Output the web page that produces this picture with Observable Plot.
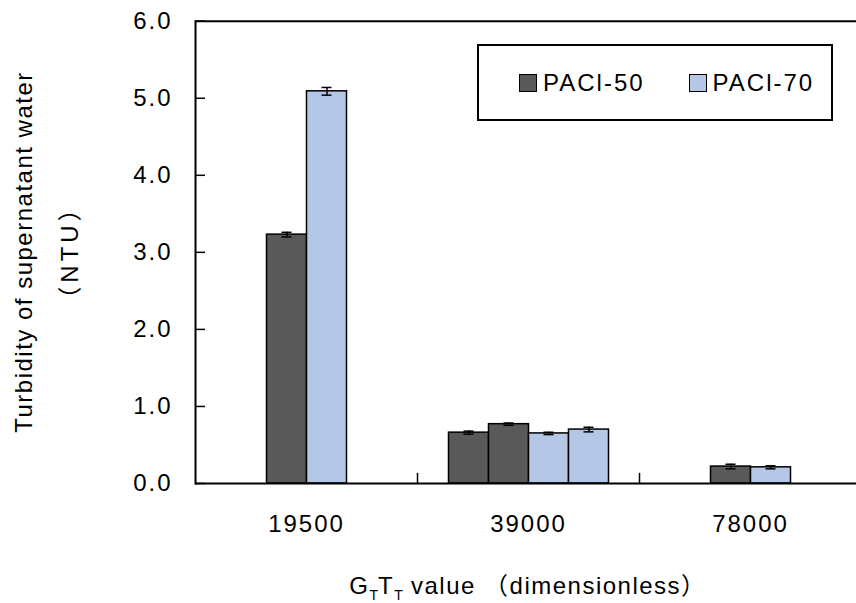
<!DOCTYPE html>
<html>
<head>
<meta charset="utf-8">
<script src="https://cdn.jsdelivr.net/npm/d3@7"></script>
<script src="https://cdn.jsdelivr.net/npm/@observablehq/plot@0.6"></script>
<style>
  body { margin: 0; background: #fff; }
  #chart {
    position: relative; width: 856px; height: 603px; overflow: hidden;
    font-family: "Liberation Sans", "Noto Sans CJK JP", sans-serif; color: #000;
  }
  #chart svg { position: absolute; left: 0; top: 0; }
  .ytitle {
    position: absolute; left: 47px; top: 252px; width: 520px;
    transform: translate(-50%, -50%) rotate(-90deg);
    text-align: center; font-size: 24px; line-height: 46px; white-space: nowrap;
    letter-spacing: 1.5px;
  }
  .ytitle .unit { letter-spacing: 4px; }
  .xtitle {
    position: absolute; left: 528px; top: 566px; transform: translateX(-50%);
    font-size: 24px; white-space: nowrap; letter-spacing: 1.5px;
  }
  .xtitle sub { font-size: 14px; vertical-align: -6px; letter-spacing: 0; }
  .legend {
    position: absolute; left: 477px; top: 44px; width: 356px; height: 77px;
    box-sizing: border-box; border: 2px solid #000; background: #fff;
    display: flex; align-items: center; padding-left: 40px; gap: 44px;
    font-size: 24px; letter-spacing: 2px;
  }
  .legend .item { display: flex; align-items: center; gap: 6px; }
  .legend .sw { width: 18px; height: 18px; box-sizing: border-box; border: 1.5px solid #000; }
</style>
</head>
<body>
<div id="chart"></div>
<script>
// G_T·T_T categories on the x axis
const groups = ["19500", "39000", "78000"];
// four bar positions inside each category (two runs per coagulant)
const slots = ["PACl-50 run 1", "PACl-50 run 2", "PACl-70 run 1", "PACl-70 run 2"];
const slotCoagulant = ["PACl-50", "PACl-50", "PACl-70", "PACl-70"];
const coagulants = ["PACl-50", "PACl-70"];
const coagulantColors = ["#595959", "#b4c7e7"];

// supernatant turbidity (NTU) per slot; null = not measured
const turbidity19500 = [null, 3.23, 5.09, null];
const turbidity39000 = [0.66, 0.77, 0.65, 0.70];
const turbidity78000 = [null, 0.22, 0.21, null];
// error bar half-lengths (NTU)
const error19500 = [null, 0.03, 0.05, null];
const error39000 = [0.02, 0.015, 0.015, 0.03];
const error78000 = [null, 0.03, 0.02, null];

const yTicks = [0, 1, 2, 3, 4, 5, 6];

const turbidityByGroup = [turbidity19500, turbidity39000, turbidity78000];
const errorByGroup = [error19500, error39000, error78000];

const rows = groups.flatMap((g, gi) =>
  slots.map((s, si) => ({
    group: g,
    slot: s,
    coagulant: slotCoagulant[si],
    value: turbidityByGroup[gi][si],
    err: errorByGroup[gi][si]
  }))
).filter(d => d.value != null);

// a plain stroke for vector marks (category separators)
const stem = {draw(context, l) { context.moveTo(0, 0); context.lineTo(0, -l); }};

const chart = Plot.plot({
  width: 856,
  height: 603,
  marginLeft: 193.5,
  marginRight: -5.5,
  marginTop: 20.7,
  marginBottom: 120,
  style: {fontFamily: '"Liberation Sans", "Noto Sans CJK JP", sans-serif', fontSize: "24px", letterSpacing: "2px", background: "transparent", color: "#000", overflow: "hidden"},
  fx: {domain: groups, padding: 0, label: null, tickSize: 0, tickPadding: 31},
  x: {domain: slots, paddingInner: 0, paddingOuter: 0.741, axis: null},
  y: {domain: [0, 6], axis: null},
  color: {domain: coagulants, range: coagulantColors},
  marks: [
    Plot.barY(rows, {fx: "group", x: "slot", y: "value", fill: "coagulant", stroke: "#000", strokeWidth: 1.5}),
    Plot.ruleX(rows, {fx: "group", x: "slot", y1: d => d.value - d.err, y2: d => d.value + d.err, stroke: "#000", strokeWidth: 1.5}),
    Plot.tickY(rows, {fx: "group", x: "slot", y: d => d.value + d.err, insetLeft: 15, insetRight: 15, stroke: "#000", strokeWidth: 1.5}),
    Plot.tickY(rows, {fx: "group", x: "slot", y: d => d.value - d.err, insetLeft: 15, insetRight: 15, stroke: "#000", strokeWidth: 1.5}),
    Plot.ruleY([0, 6], {stroke: "#000", strokeWidth: 2}),
    Plot.frame({anchor: "left", facetAnchor: "left", stroke: "#000", strokeWidth: 2}),
    Plot.axisY({ticks: yTicks, tickFormat: d => d.toFixed(1), tickSize: -10, tickPadding: 33, strokeWidth: 1.5, label: null}),
    Plot.vector([0], {frameAnchor: "bottom-right", rotate: 0, length: 10, anchor: "start", shape: stem, stroke: "#000", strokeWidth: 1.5})
  ]
});

const root = document.getElementById("chart");
root.appendChild(chart);

const yt = document.createElement("div");
yt.className = "ytitle";
yt.innerHTML = "Turbidity of supernatant water<br><span class=\"unit\">（NTU）</span>";
root.appendChild(yt);

const xt = document.createElement("div");
xt.className = "xtitle";
xt.innerHTML = "G<sub>T</sub>T<sub>T</sub> value （dimensionless）";
root.appendChild(xt);

const legend = document.createElement("div");
legend.className = "legend";
coagulants.forEach((c, i) => {
  const item = document.createElement("div");
  item.className = "item";
  const sw = document.createElement("span");
  sw.className = "sw";
  sw.style.background = coagulantColors[i];
  const label = document.createElement("span");
  label.textContent = c;
  item.append(sw, label);
  legend.appendChild(item);
});
root.appendChild(legend);
</script>
</body>
</html>
